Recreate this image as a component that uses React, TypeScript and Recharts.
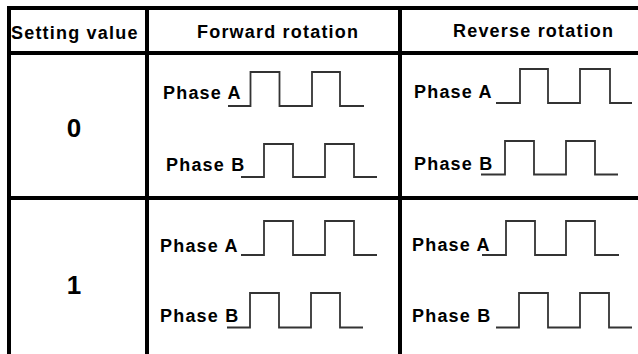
import { LineChart, Line, XAxis, YAxis } from 'recharts';

// time axis of one waveform cell (same units as the picture's pixels)
const SPAN = 164;
const levels = [0, 1, 0, 1, 0, 0];

// edge times: start, rise, fall, rise, fall, end
const fwdA0 = [8, 30.5, 59.5, 92, 120, 144];
const fwdB0 = [21, 44, 73, 105, 134, 157];
const revA0 = [22, 46, 74, 106, 136, 158];
const revB0 = [7, 31, 60, 92, 121, 144];
const fwdA1 = [21, 44, 73, 105, 134, 157];
const fwdB1 = [7, 30, 59, 91, 120, 143];
const revA1 = [8, 32, 61, 92, 121, 145];
const revB1 = [22, 45, 74, 106, 135, 158];

const headers = ['Setting value', 'Forward rotation', 'Reverse rotation'];
const settings = ['0', '1'];
const phaseLabels = ['Phase A', 'Phase B'];

const FONT = '"Liberation Sans", Arial, sans-serif';
const INK = '#000';
const WAVE = '#333';

const toSteps = (edges: number[]) => edges.map((t, i) => ({ t, v: levels[i] }));

function Wave({ edges, x, y, h }: { edges: number[]; x: number; y: number; h: number }) {
  const pad = 3;
  return (
    <div style={{ position: 'absolute', left: x - pad, top: y - pad }}>
      <LineChart
        width={SPAN + pad * 2}
        height={h + pad * 2}
        data={toSteps(edges)}
        margin={{ top: pad, right: pad, bottom: pad, left: pad }}
      >
        <XAxis dataKey="t" type="number" domain={[0, SPAN]} hide />
        <YAxis domain={[0, 1]} hide />
        <Line type="stepAfter" dataKey="v" stroke={WAVE} strokeWidth={1.8} dot={false} isAnimationActive={false} />
      </LineChart>
    </div>
  );
}

function Label({ text, x, y, size = 18, center = false }: { text: string; x: number; y: number; size?: number; center?: boolean }) {
  return (
    <span
      style={{
        position: 'absolute',
        left: x,
        top: y,
        transform: center ? 'translate(-50%, -50%)' : 'translateY(-50%)',
        fontFamily: FONT,
        fontWeight: 'bold',
        fontSize: size,
        letterSpacing: size === 18 ? 1.2 : 0,
        lineHeight: 1,
        whiteSpace: 'nowrap',
        color: INK,
      }}
    >
      {text}
    </span>
  );
}

const rule = (left: number, top: number, width: number, height: number) => (
  <div style={{ position: 'absolute', left, top, width, height, background: INK }} />
);

export default function App() {
  return (
    <div style={{ position: 'absolute', left: 0, top: 0, width: 638, height: 354, background: '#fff', overflow: 'hidden' }}>
      {/* grid */}
      {rule(7, 6, 640, 4)}
      {rule(7, 51, 640, 4)}
      {rule(7, 196, 640, 4)}
      {rule(7, 6, 4, 360)}
      {rule(145, 6, 4, 360)}
      {rule(398, 6, 4, 360)}

      {/* header */}
      <Label text={headers[0]} x={11} y={32.5} />
      <Label text={headers[1]} x={197} y={31.5} />
      <Label text={headers[2]} x={453} y={30.5} />

      {/* setting values */}
      <Label text={settings[0]} x={74} y={128} size={26} center />
      <Label text={settings[1]} x={74} y={285} size={26} center />

      {/* row 0 */}
      <Label text={phaseLabels[0]} x={163} y={92.5} />
      <Label text={phaseLabels[1]} x={166} y={164.5} />
      <Label text={phaseLabels[0]} x={414} y={92} />
      <Label text={phaseLabels[1]} x={414} y={164} />
      <Wave edges={fwdA0} x={220} y={71.5} h={34} />
      <Wave edges={fwdB0} x={220} y={143.5} h={33} />
      <Wave edges={revA0} x={474} y={69} h={34} />
      <Wave edges={revB0} x={474} y={141} h={33.5} />

      {/* row 1 */}
      <Label text={phaseLabels[0]} x={160} y={245.5} />
      <Label text={phaseLabels[1]} x={160} y={316} />
      <Label text={phaseLabels[0]} x={412} y={245} />
      <Label text={phaseLabels[1]} x={412} y={316} />
      <Wave edges={fwdA1} x={220} y={221} h={34} />
      <Wave edges={fwdB1} x={220} y={292.5} h={34.5} />
      <Wave edges={revA1} x={474} y={221} h={34} />
      <Wave edges={revB1} x={474} y={292.5} h={34.5} />
    </div>
  );
}
